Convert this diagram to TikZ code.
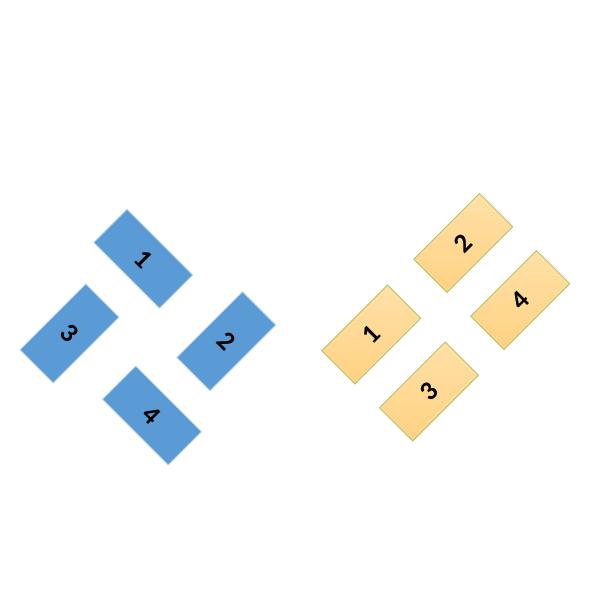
\documentclass[tikz,border=0pt]{standalone}
\usepackage{fontspec}
\setmainfont{Carlito}
\definecolor{bfill}{HTML}{5B9BD5}
\definecolor{bline}{HTML}{BDD7EE}
\definecolor{otop}{HTML}{FFE0A6}
\definecolor{obot}{HTML}{FFD283}
\definecolor{oline}{HTML}{B2C46A}
\tikzset{
  tile/.style={minimum width=93pt, minimum height=47pt, inner sep=0pt},
  bluetile/.style={tile, fill=bfill, draw=bline, line width=0.9pt},
  goldtile/.style={tile, top color=otop, bottom color=obot, draw=oline, line width=0.8pt},
  digit/.style={font=\bfseries\fontsize{27}{27}\selectfont, text=black}
}
\begin{document}
\begin{tikzpicture}[x=1pt,y=1pt]
\useasboundingbox (0,0) rectangle (600,600);
% blue group
\node[bluetile, rotate=-45] (b1) at (143.3,341.2) {};
\node[digit, rotate=-45] (t1) at (b1) {1};
\node[bluetile, rotate=45] (b3) at (69.5,266.5) {};
\node[digit, rotate=-45] (t3) at (b3) {3};
\node[bluetile, rotate=45] (b2) at (226.3,258.8) {};
\node[digit, rotate=-45] (t2) at (b2) {2};
\node[bluetile, rotate=-45] (b4) at (152,184.5) {};
\node[digit, rotate=-45] (t4) at (b4) {4};
% gold group
\node[goldtile, rotate=45] (o2) at (463.2,357) {};
\node[digit, rotate=45] (u2) at (o2) {2};
\node[goldtile, rotate=45] (o4) at (520.2,300) {};
\node[digit, rotate=45] (u4) at (o4) {4};
\node[goldtile, rotate=45] (o1) at (371.2,265.5) {};
\node[digit, rotate=45] (u1) at (o1) {1};
\node[goldtile, rotate=45] (o3) at (429,208.5) {};
\node[digit, rotate=45] (u3) at (o3) {3};
\end{tikzpicture}
\end{document}
